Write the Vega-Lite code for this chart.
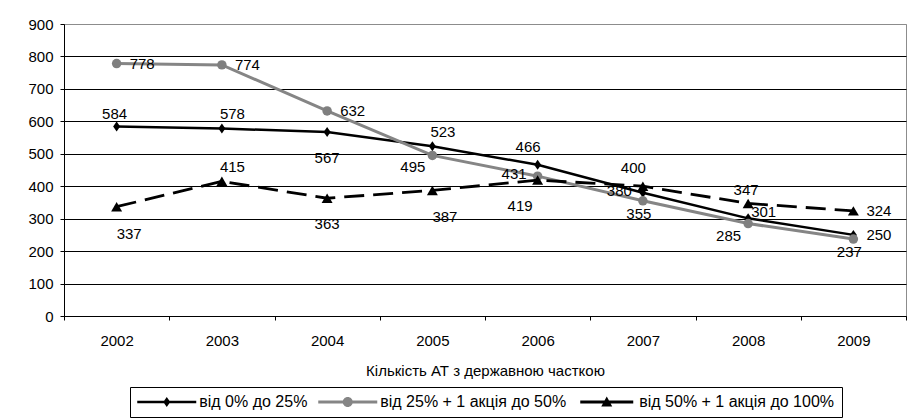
{
  "$schema": "https://vega.github.io/schema/vega-lite/v6.json",
  "autosize": {"type": "none"},
  "width": 842,
  "height": 292,
  "padding": {"left": 64, "top": 24, "right": 7, "bottom": 103},
  "background": "white",
  "config": {
    "font": "Liberation Sans",
    "view": {"stroke": "#8c8c8c", "strokeWidth": 1},
    "axis": {"labelColor": "black", "labelFontSize": 15, "domainColor": "black", "tickColor": "black", "titleColor": "black"},
    "legend": {
      "orient": "none", "legendX": 66, "legendY": 363, "direction": "horizontal",
      "strokeColor": "black", "strokeWidth": 1, "padding": 7,
      "labelFontSize": 16, "labelColor": "black", "labelLimit": 400, "symbolSize": 100,
      "symbolOffset": 21.75, "labelOffset": 24.5, "columnPadding": 10,
      "symbolOpacity": 1, "symbolStrokeWidth": 0, "title": null
    }
  },
  "data": {"values": [
    {"year": "2002", "series": "від 0% до 25%", "value": 584},
    {"year": "2003", "series": "від 0% до 25%", "value": 578},
    {"year": "2004", "series": "від 0% до 25%", "value": 567},
    {"year": "2005", "series": "від 0% до 25%", "value": 523},
    {"year": "2006", "series": "від 0% до 25%", "value": 466},
    {"year": "2007", "series": "від 0% до 25%", "value": 380},
    {"year": "2008", "series": "від 0% до 25%", "value": 301},
    {"year": "2009", "series": "від 0% до 25%", "value": 250},
    {"year": "2002", "series": "від 25% + 1 акція до 50%", "value": 778},
    {"year": "2003", "series": "від 25% + 1 акція до 50%", "value": 774},
    {"year": "2004", "series": "від 25% + 1 акція до 50%", "value": 632},
    {"year": "2005", "series": "від 25% + 1 акція до 50%", "value": 495},
    {"year": "2006", "series": "від 25% + 1 акція до 50%", "value": 431},
    {"year": "2007", "series": "від 25% + 1 акція до 50%", "value": 355},
    {"year": "2008", "series": "від 25% + 1 акція до 50%", "value": 285},
    {"year": "2009", "series": "від 25% + 1 акція до 50%", "value": 237},
    {"year": "2002", "series": "від 50% + 1 акція до 100%", "value": 337},
    {"year": "2003", "series": "від 50% + 1 акція до 100%", "value": 415},
    {"year": "2004", "series": "від 50% + 1 акція до 100%", "value": 363},
    {"year": "2005", "series": "від 50% + 1 акція до 100%", "value": 387},
    {"year": "2006", "series": "від 50% + 1 акція до 100%", "value": 419},
    {"year": "2007", "series": "від 50% + 1 акція до 100%", "value": 400},
    {"year": "2008", "series": "від 50% + 1 акція до 100%", "value": 347},
    {"year": "2009", "series": "від 50% + 1 акція до 100%", "value": 324}
  ]},
  "encoding": {
    "x": {"field": "year", "type": "ordinal", "sort": null,
      "scale": {"type": "band", "paddingInner": 0, "paddingOuter": 0},
      "axis": {"title": "Кількість АТ з державною часткою", "titleFontSize": 15, "titleFontWeight": "normal", "titlePadding": 15,
        "labelAngle": 0, "tickBand": "extent", "tickSize": 4, "labelPadding": 13, "grid": false, "domainWidth": 1}},
    "y": {"field": "value", "type": "quantitative",
      "scale": {"domain": [0, 900], "nice": false},
      "axis": {"title": null, "values": [0, 100, 200, 300, 400, 500, 600, 700, 800, 900], "tickSize": 4, "labelPadding": 7,
        "grid": true, "gridWidth": 1, "gridOpacity": 1,
        "gridColor": {"condition": {"test": "datum.value === 900", "value": "#8c8c8c"}, "value": "#000000"}}}
  },
  "layer": [
    {"transform": [{"filter": "datum.series === 'від 0% до 25%'"}],
     "mark": {"type": "line", "color": "#000000", "strokeWidth": 2.5}},
    {"transform": [{"filter": "datum.series === 'від 0% до 25%'"}],
     "mark": {"type": "point", "filled": true, "opacity": 1, "color": "#000000", "shape": "M0,-1L0.7,0L0,1L-0.7,0Z", "size": 100}},
    {"transform": [{"filter": "datum.series === 'від 25% + 1 акція до 50%'"}],
     "mark": {"type": "line", "color": "#858585", "strokeWidth": 3}},
    {"transform": [{"filter": "datum.series === 'від 25% + 1 акція до 50%'"}],
     "mark": {"type": "point", "filled": true, "opacity": 1, "color": "#7f7f7f", "shape": "circle", "size": 90}},
    {"transform": [{"filter": "datum.series === 'від 50% + 1 акція до 100%'"}],
     "mark": {"type": "line", "color": "#000000", "strokeWidth": 2.8, "strokeDash": [20, 9], "strokeCap": "butt"}},
    {"transform": [{"filter": "datum.series === 'від 50% + 1 акція до 100%'"}],
     "mark": {"type": "point", "filled": true, "opacity": 1, "color": "#000000", "shape": "triangle-up", "size": 120}},
    {"mark": {"type": "point", "filled": true, "opacity": 0, "size": 100},
     "encoding": {
       "color": {"field": "series", "type": "nominal",
         "scale": {"domain": ["від 0% до 25%", "від 25% + 1 акція до 50%", "від 50% + 1 акція до 100%"], "range": ["#000000", "#858585", "#000000"]},
         "legend": {"title": null}},
       "shape": {"field": "series", "type": "nominal",
         "scale": {"domain": ["від 0% до 25%", "від 25% + 1 акція до 50%", "від 50% + 1 акція до 100%"],
           "range": ["M-5.9,-0.25H5.9V0.25H-5.9ZM0,-1L0.7,0L0,1L-0.7,0Z",
                     "M-5.9,-0.3H5.9V0.3H-5.9ZM1,0A1,1 0 1,1 -1,0A1,1 0 1,1 1,0Z",
                     "M-5.3,-0.3H5.3V0.3H-5.3ZM0,-1.1L1.1,0.9L-1.1,0.9Z"]},
         "legend": {"title": null}}
     }},
    {"transform": [{"filter": "indexof(['від 0% до 25%|2009','від 25% + 1 акція до 50%|2002','від 25% + 1 акція до 50%|2003','від 25% + 1 акція до 50%|2004','від 50% + 1 акція до 100%|2009'], datum.series + '|' + datum.year) >= 0"}],
     "mark": {"type": "text", "align": "left", "baseline": "middle", "dx": 13, "dy": 0, "fontSize": 15, "color": "black"},
     "encoding": {"text": {"field": "value", "type": "quantitative"}}},
    {"transform": [{"filter": "indexof(['від 0% до 25%|2003','від 50% + 1 акція до 100%|2003','від 0% до 25%|2005'], datum.series + '|' + datum.year) >= 0"}],
     "mark": {"type": "text", "align": "left", "baseline": "middle", "dx": -2, "dy": -14, "fontSize": 15, "color": "black"},
     "encoding": {"text": {"field": "value", "type": "quantitative"}}},
    {"transform": [{"filter": "indexof(['від 0% до 25%|2008'], datum.series + '|' + datum.year) >= 0"}],
     "mark": {"type": "text", "align": "left", "baseline": "middle", "dx": 3, "dy": -6, "fontSize": 15, "color": "black"},
     "encoding": {"text": {"field": "value", "type": "quantitative"}}},
    {"transform": [{"filter": "indexof(['від 0% до 25%|2002','від 50% + 1 акція до 100%|2008'], datum.series + '|' + datum.year) >= 0"}],
     "mark": {"type": "text", "align": "center", "baseline": "middle", "dx": -2, "dy": -13, "fontSize": 15, "color": "black"},
     "encoding": {"text": {"field": "value", "type": "quantitative"}}},
    {"transform": [{"filter": "indexof(['від 0% до 25%|2006','від 50% + 1 акція до 100%|2007'], datum.series + '|' + datum.year) >= 0"}],
     "mark": {"type": "text", "align": "right", "baseline": "middle", "dx": 3, "dy": -18, "fontSize": 15, "color": "black"},
     "encoding": {"text": {"field": "value", "type": "quantitative"}}},
    {"transform": [{"filter": "indexof(['від 0% до 25%|2004','від 50% + 1 акція до 100%|2004'], datum.series + '|' + datum.year) >= 0"}],
     "mark": {"type": "text", "align": "center", "baseline": "middle", "dx": 0, "dy": 26, "fontSize": 15, "color": "black"},
     "encoding": {"text": {"field": "value", "type": "quantitative"}}},
    {"transform": [{"filter": "indexof(['від 50% + 1 акція до 100%|2002','від 50% + 1 акція до 100%|2005'], datum.series + '|' + datum.year) >= 0"}],
     "mark": {"type": "text", "align": "left", "baseline": "middle", "dx": 0, "dy": 27, "fontSize": 15, "color": "black"},
     "encoding": {"text": {"field": "value", "type": "quantitative"}}},
    {"transform": [{"filter": "indexof(['від 50% + 1 акція до 100%|2006'], datum.series + '|' + datum.year) >= 0"}],
     "mark": {"type": "text", "align": "right", "baseline": "middle", "dx": -5, "dy": 26, "fontSize": 15, "color": "black"},
     "encoding": {"text": {"field": "value", "type": "quantitative"}}},
    {"transform": [{"filter": "indexof(['від 0% до 25%|2007','від 25% + 1 акція до 50%|2006'], datum.series + '|' + datum.year) >= 0"}],
     "mark": {"type": "text", "align": "right", "baseline": "middle", "dx": -11, "dy": -2, "fontSize": 15, "color": "black"},
     "encoding": {"text": {"field": "value", "type": "quantitative"}}},
    {"transform": [{"filter": "indexof(['від 25% + 1 акція до 50%|2005','від 25% + 1 акція до 50%|2008'], datum.series + '|' + datum.year) >= 0"}],
     "mark": {"type": "text", "align": "right", "baseline": "middle", "dx": -7, "dy": 12, "fontSize": 15, "color": "black"},
     "encoding": {"text": {"field": "value", "type": "quantitative"}}},
    {"transform": [{"filter": "indexof(['від 25% + 1 акція до 50%|2007','від 25% + 1 акція до 50%|2009'], datum.series + '|' + datum.year) >= 0"}],
     "mark": {"type": "text", "align": "center", "baseline": "middle", "dx": -4, "dy": 13, "fontSize": 15, "color": "black"},
     "encoding": {"text": {"field": "value", "type": "quantitative"}}}
  ]
}
